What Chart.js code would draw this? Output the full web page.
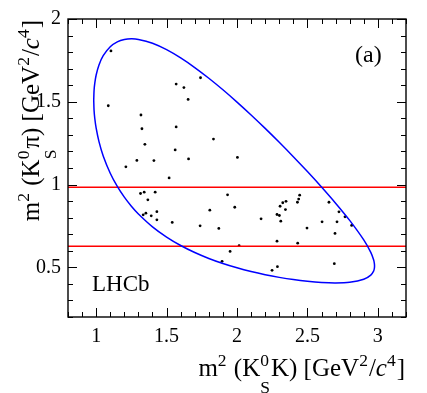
<!DOCTYPE html>
<html>
<head>
<meta charset="utf-8">
<script src="https://cdn.jsdelivr.net/npm/chart.js@4.4.1/dist/chart.umd.min.js"></script>
<style>
  body { margin: 0; background: #fff; }
  #wrap { width: 427px; height: 393px; }
</style>
</head>
<body>
<div id="wrap"><canvas id="dalitz" width="427" height="393"></canvas></div>
<script>
// candidates: m2(KS K) on x, m2(KS pi) on y
const candX = [1.105, 1.568, 1.623, 1.741, 1.653, 1.086, 1.318, 1.325, 1.568, 1.833,
               1.346, 1.561, 1.289, 1.410, 1.656, 1.211, 1.518, 2.003, 1.315, 1.341,
               1.419, 1.367, 1.807, 1.353, 1.334, 1.431, 1.391, 1.431, 1.540, 1.738,
               1.871, 1.933, 1.984, 2.445, 2.438, 2.429, 2.348, 2.325, 2.306, 2.344,
               2.284, 2.301, 2.171, 2.311, 2.497, 2.653, 2.724, 2.710, 2.767, 2.604,
               2.814, 2.696, 2.284, 2.431, 2.015, 1.951, 1.894, 2.287, 2.249, 2.691];
const candY = [1.807, 1.607, 1.586, 1.645, 1.514, 1.476, 1.420, 1.337, 1.348, 1.275,
               1.243, 1.209, 1.146, 1.145, 1.155, 1.107, 1.040, 1.164, 0.946, 0.954,
               0.954, 0.908, 0.845, 0.827, 0.817, 0.836, 0.811, 0.787, 0.771, 0.751,
               0.735, 0.938, 0.863, 0.936, 0.912, 0.893, 0.899, 0.890, 0.869, 0.849,
               0.819, 0.813, 0.793, 0.779, 0.737, 0.893, 0.835, 0.775, 0.805, 0.775,
               0.753, 0.705, 0.658, 0.646, 0.631, 0.596, 0.536, 0.504, 0.482, 0.522];

// kinematic boundary, upper branch left->right then lower branch back
const boundaryX = [0.9827, 0.985, 0.99, 1.0, 1.02, 1.05, 1.1, 1.15, 1.2, 1.25, 1.3, 1.4, 1.5,
                   1.6, 1.7, 1.8, 1.9, 2.0, 2.1, 2.2, 2.3, 2.4, 2.5, 2.6, 2.7, 2.8, 2.9,
                   2.95, 2.97, 2.975, 2.9766,
                   2.975, 2.97, 2.95, 2.9, 2.8, 2.7, 2.6, 2.5, 2.4, 2.3, 2.2, 2.1, 2.0,
                   1.9, 1.8, 1.7, 1.6, 1.5, 1.4, 1.3, 1.25, 1.2, 1.15, 1.1, 1.05, 1.02,
                   1.0, 0.99, 0.985, 0.9827];
const boundaryY = [1.5098, 1.5684, 1.6115, 1.6617, 1.7226, 1.7784, 1.8324, 1.8616, 1.8759,
                   1.8801, 1.8767, 1.8536, 1.8149, 1.7650, 1.7069, 1.6422, 1.5724, 1.4982,
                   1.4203, 1.3392, 1.2551, 1.1681, 1.0782, 0.9850, 0.8874, 0.7834, 0.6655,
                   0.5903, 0.5454, 0.5255, 0.5082,
                   0.4925, 0.4776, 0.4528, 0.4276, 0.4098, 0.4060, 0.4087, 0.4157, 0.4259,
                   0.4393, 0.4554, 0.4745, 0.4970, 0.5232, 0.5537, 0.5895, 0.6318, 0.6826,
                   0.7445, 0.8221, 0.8692, 0.9238, 0.9886, 1.0683, 1.1729, 1.2592, 1.3402,
                   1.4006, 1.4488, 1.5098];

// K*(892) band edges
const bandLimits = [0.627, 0.9835];

const xRange = [0.8, 3.2];
const yRange = [0.2, 2];
const xTicks = [1, 1.5, 2, 2.5, 3];
const yTicks = [0.5, 1, 1.5, 2];

const serif = '"Liberation Serif", "Times New Roman", serif';
function font(sz, it) { return (it ? 'italic ' : '') + sz + 'px ' + serif; }

const xTitle = [{t: 'm'}, {sup: '2'}, {t: ' (K'}, {sup: '0', sub: 'S'}, {t: 'K) [GeV'}, {sup: '2'},
                {t: '/'}, {t: 'c', it: true}, {sup: '4'}, {t: ']'}];
const yTitle = [{t: 'm'}, {sup: '2'}, {t: ' (K'}, {sup: '0', sub: 'S'}, {t: 'π) [GeV'}, {sup: '2'},
                {t: '/'}, {t: 'c', it: true}, {sup: '4'}, {t: ']'}];

function partWidth(ctx, p, size) {
  if (p.t === undefined) {
    ctx.font = font(size * 0.7);
    const a = p.sup ? ctx.measureText(p.sup).width : 0;
    const b = p.sub ? ctx.measureText(p.sub).width : 0;
    return Math.max(a, b) + size * 0.04;
  }
  ctx.font = font(size, p.it);
  return ctx.measureText(p.t).width;
}

// draws text with super/subscripts, right end at (x, y)
function drawRich(ctx, parts, x, y, size) {
  const total = parts.reduce((s, p) => s + partWidth(ctx, p, size), 0);
  let cx = x - total;
  ctx.textAlign = 'left';
  ctx.textBaseline = 'alphabetic';
  parts.forEach(p => {
    const w = partWidth(ctx, p, size);
    if (p.t !== undefined) {
      ctx.font = font(size, p.it);
      ctx.fillText(p.t, cx, y);
    } else {
      ctx.font = font(size * 0.7);
      if (p.sup) ctx.fillText(p.sup, cx, y - size * 0.42);
      if (p.sub) ctx.fillText(p.sub, cx, y + size * 0.68);
    }
    cx += w;
  });
}

const framePlugin = {
  id: 'frame',
  afterDraw(chart) {
    const ctx = chart.ctx;
    const a = chart.chartArea;
    const xs = chart.scales.x, ys = chart.scales.y;
    ctx.save();
    ctx.strokeStyle = '#000';
    ctx.lineWidth = 1.4;
    ctx.strokeRect(a.left, a.top, a.right - a.left, a.bottom - a.top);

    // inner ticks on all four sides
    ctx.lineWidth = 1;
    ctx.beginPath();
    for (let i = 8; i <= 32; i++) {
      const px = Math.round(xs.getPixelForValue(i / 10)) + 0.5;
      const len = i % 5 === 0 ? 9 : 5;
      ctx.moveTo(px, a.bottom); ctx.lineTo(px, a.bottom - len);
      ctx.moveTo(px, a.top); ctx.lineTo(px, a.top + len);
    }
    for (let i = 2; i <= 20; i++) {
      const py = Math.round(ys.getPixelForValue(i / 10)) + 0.5;
      const len = i % 5 === 0 ? 9 : 5;
      ctx.moveTo(a.left, py); ctx.lineTo(a.left + len, py);
      ctx.moveTo(a.right, py); ctx.lineTo(a.right - len, py);
    }
    ctx.stroke();

    ctx.fillStyle = '#000';
    drawRich(ctx, xTitle, 405, 376, 25);

    ctx.save();
    ctx.translate(39, 20);
    ctx.rotate(-Math.PI / 2);
    drawRich(ctx, yTitle, 0, 0, 25);
    ctx.restore();

    ctx.textAlign = 'left';
    ctx.textBaseline = 'alphabetic';
    ctx.font = font(24);
    ctx.fillText('(a)', 355, 62);
    ctx.font = font(23);
    ctx.fillText('LHCb', 92, 291);
    ctx.restore();
  }
};

const candidates = candX.map((v, i) => ({x: v, y: candY[i]}));
const boundary = boundaryX.map((v, i) => ({x: v, y: boundaryY[i]}));

new Chart(document.getElementById('dalitz'), {
  type: 'scatter',
  data: {
    datasets: [
      {
        data: boundary,
        showLine: true,
        borderColor: '#0000ff',
        borderWidth: 1.5,
        pointRadius: 0,
        tension: 0.3,
        fill: false
      },
      ...bandLimits.map(b => ({
        data: [{x: xRange[0], y: b}, {x: xRange[1], y: b}],
        showLine: true,
        borderColor: '#ff0000',
        borderWidth: 1.5,
        pointRadius: 0
      })),
      {
        data: candidates,
        backgroundColor: '#000',
        borderColor: '#000',
        borderWidth: 0,
        pointRadius: 1.4
      }
    ]
  },
  options: {
    responsive: false,
    animation: false,
    devicePixelRatio: 1,
    events: [],
    layout: {padding: {top: 19, right: 21, left: 0, bottom: 0}},
    plugins: {legend: {display: false}, tooltip: {enabled: false}},
    scales: {
      x: {
        type: 'linear',
        min: xRange[0],
        max: xRange[1],
        grid: {display: false, drawTicks: false},
        border: {display: false},
        afterBuildTicks: s => { s.ticks = xTicks.map(v => ({value: v})); },
        afterFit: s => { s.height = 76; },
        ticks: {
          color: '#000',
          font: {family: serif, size: 20},
          padding: 8,
          maxRotation: 0,
          autoSkip: false,
          callback: v => String(v)
        }
      },
      y: {
        type: 'linear',
        min: yRange[0],
        max: yRange[1],
        grid: {display: false, drawTicks: false},
        border: {display: false},
        afterBuildTicks: s => { s.ticks = yTicks.map(v => ({value: v})); },
        afterFit: s => { s.width = 68; },
        ticks: {
          color: '#000',
          font: {family: serif, size: 20},
          padding: 7,
          autoSkip: false,
          callback: v => String(v)
        }
      }
    }
  },
  plugins: [framePlugin]
});
</script>
</body>
</html>
